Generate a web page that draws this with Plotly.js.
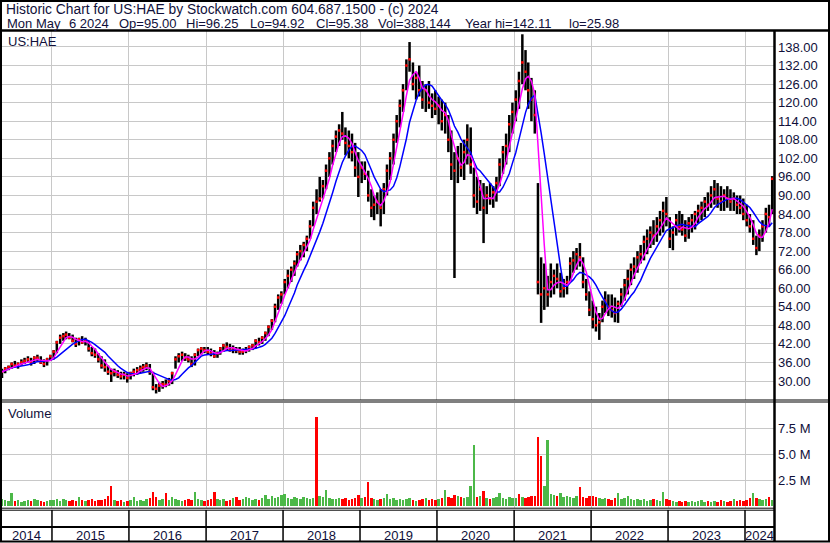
<!DOCTYPE html>
<html><head><meta charset="utf-8">
<script src="https://cdn.plot.ly/plotly-3.0.1.min.js"></script>
<style>html,body{margin:0;padding:0;background:#fff;} #chart{width:830px;height:543px;}</style>
</head><body><div id="chart"></div>
<script>
// ---- data (semi-monthly samples, 9th & 24th of each month from 2014-05-09) ----
const hi = [
 34,34.5,35,36,36.5,36,37,37.5,38,37.5,38,38.5,38,37,37.5,38.5,
 40,43,45,45.5,46,45.5,45,44,44,44.5,44,43,41,40.5,39,38,37,35,34,34,33.5,33,33,32.5,
 33,34,34.5,35,35.5,36,35.5,33,29,29.5,30,30.5,31,33,38,39,39.5,39,38.5,38,39,40.5,41,41,
 41,40.5,40,39.5,41,42,42.5,42,41.5,41,41,40.5,41,41.5,42,43.5,44,44.5,46,48,50,55,58,59,
 63,66,67,69,72,74,75,77,82,88,92,96,95,100,104,108,111,113,117,112,111,110,107,104,
 101,101,98,92,90,91,92,94,100,104,110,116,121,126,134,139.6,133,130,132,127,126,127,123,124,
 122,121,120,116,111,104,106,107,108,113,112,99,96,95,94,93,94,93,96,102,106,110,116,120,
 124,130,142.11,137,133,128,124,94,70,68,64,68,66,68,65,63,64,70,72,73,74.6,70,63,59,
 56,54,52,56,59,58,58,57,56,60,63,66,68,70,72,74,77,79,80,82,83,85,88,89.5,
 83,80,84,85,84,82,83,84,85,87,88,89.5,91,93,95,94,93,92,93,92,91,90,90,89,
 87,84,82,77,79,82,86,87,96.25
];
const lo = [
 31,32.5,33.5,34,34.5,34,35,35.5,36,35,35.5,36.5,35.5,34.5,35,36.5,
 37,39,42,43,43.5,43.5,42.5,41,41.5,42,41.5,39.5,38,37.5,36,34,33,32,29.7,31.5,31,30.5,30.5,29.5,
 30.5,31.5,32,32.5,33,33.5,32,27,25.98,26.5,27.5,28,28.5,29,34,36,36.5,36.5,36,34.5,35,38,38.5,39,
 38.5,38,37.5,37.5,38.5,39.5,40,39.5,39,39,38.5,38.5,39,39.5,40,40.5,41.5,42,43,44.5,46.5,49,53,55,
 58,60,62,64,67,69,70,72,76,80,84,88,89,92,96,100,104,106,108,103,102,101,96,89.5,
 94,95,88,83,82,84,80,84,90,95,100,107,112,117,124,130,124,121,122,118,117,118,115,116,
 113,111,110,104,95,63.3,94,96,95,100,97,86,84,85,74.6,84,87,86,88,93,97,100,104,110,
 114,118,126,124,118,114,110,58,48.8,53,54,57,58,60,57,57,58,62,65,66,67,60,56,51,
 47,46,43.3,49,52,51,50.5,49,48.8,54,56,58,61,63,65,68,69,71,73,74,75,77,78,80,
 73,72.3,77,78,77,75,76,78,79,81,82,83,85,86,87,86,85,85,86,85,85,84,84,82,
 80,78,74,70.7,72,75,78,80,84
];
const cl = [
 33,34,34.5,35.5,35,35.5,36,36.5,37,36,37.5,37.5,36,35.5,37,38,
 39.5,42.5,44,44.5,45,44,43,42,43.5,42.5,43,40.5,39,38.5,37,35,34.5,33,32.5,33,32,31.5,32,31,
 32.5,33,33.5,34,34.5,35,33,28,27.5,28.5,29,28.8,30,32.5,37,38,38.5,37.5,37,35.5,38.5,40,40.5,40,
 39.5,39,38,39,40.5,41.5,41,40,40.5,40,39.5,39.5,40,41,41.5,43,42.5,44,45.5,47.5,49.5,54,57,58,
 62,64,66,68,71,72,74,76,80,86,88,89,93,98,102,106,109,111,110,107,106,104,99,96,
 99,97,90,86,87,88,86,92,98,102,108,114,119,124,132,134,126,128,124,121,124,120,119,118,
 119,114,116,108,100,98,102,99,104,108,100,90,88,92,86,90,89,91,94,100,104,106,113,117,
 121,127,133,130,124,121,116,62,58,60,58,62,64,63,59,60,62,68,69,71,70,62,58,53,
 50,48,49,54,56,54,53,52,55,58,61,63,66,67,70,71,75,76,78,77,80,82,85,84,
 76,78,82,80,79,77,81,82,84,85,86,88,87,90,92,89,88,90,89,88,89,87,86,84,
 82,80,76,73,77,80,84,83,95.38
];
// volume in millions (largest daily volume in each half-month)
const vol = [
 0.7,0.6,0.5,1.3,0.5,0.6,0.4,0.5,0.6,0.5,0.7,0.6,0.5,0.4,0.5,0.6,
 0.6,0.7,0.5,0.7,0.6,0.5,0.6,0.5,0.9,0.6,0.5,0.6,0.7,0.5,0.6,0.6,0.7,1.0,1.95,0.6,0.5,0.6,0.4,0.5,
 0.6,0.9,0.5,0.6,0.5,0.7,0.8,1.35,0.9,0.6,0.7,1.25,0.6,0.9,0.7,0.6,0.5,0.6,0.7,0.6,1.4,0.7,0.6,0.5,
 0.6,0.7,1.35,0.7,0.6,0.7,0.5,0.6,0.8,0.9,0.6,0.7,0.9,0.8,0.6,0.7,0.6,0.8,1.1,0.7,1.0,0.8,0.9,1.1,
 1.2,0.8,0.7,0.9,0.8,0.7,0.9,0.8,0.7,0.8,8.6,1.0,0.9,1.6,0.8,0.7,0.7,0.8,0.7,0.8,0.6,0.7,0.8,1.1,
 0.8,0.9,2.35,0.8,0.7,0.6,0.7,0.8,1.2,0.7,0.8,0.6,0.7,0.6,0.7,0.8,0.6,0.5,0.6,0.7,0.8,0.6,0.7,0.6,
 0.7,0.8,1.6,0.9,0.8,1.1,1.0,0.9,0.8,0.9,1.95,5.9,0.9,1.0,1.5,0.8,0.7,0.8,0.9,1.3,0.8,0.7,0.9,0.8,
 0.8,1.2,0.9,0.8,0.9,1.0,1.0,6.7,4.8,2.0,6.4,1.2,1.1,1.0,1.3,0.9,1.0,0.9,0.8,1.0,1.85,0.9,0.8,1.0,
 1.0,0.9,0.8,0.7,0.8,0.7,0.6,0.8,1.3,0.7,0.8,1.0,0.7,0.6,0.7,0.6,0.7,0.5,0.6,0.7,0.6,0.5,1.4,0.7,
 0.6,0.5,0.4,0.5,0.4,0.5,0.4,0.5,0.4,0.5,0.6,0.4,0.5,0.4,0.5,0.4,0.6,0.5,0.4,0.5,0.7,0.5,0.6,0.5,
 0.6,0.8,1.25,0.8,0.7,0.6,0.7,0.9,0.6
];
const upDays = [3,53,60,88,101,120,138,146,147,155,169,170,174,192,195,206,234];
const downDays = [33,34,47,51,66,98,111,114,141,150,161,167,168,180,239];
const years = ['2014','2015','2016','2017','2018','2019','2020','2021','2022','2023','2024'];
const priceTicks = [30,36,42,48,54,60,66,72,78,84,90,96,102,108,114,120,126,132,138];
const volTicks = [2.5,5,7.5];
const volTickText = ['2.5 M','5.0 M','7.5 M'];
const symbol = 'US:HAE';
const headerLine1 = 'Historic Chart for US:HAE by Stockwatch.com 604.687.1500 - (c) 2024';
const headerFields = ['Mon May','6 2024','Op=95.00','Hi=96.25','Lo=94.92','Cl=95.38','Vol=388,144','Year hi=142.11','lo=25.98'];
const fastMA = 4, slowMA = 9;

// ---- layout positions (pixels) ----
const headerFieldX = [6,68,118,185,249,315,377,464,568];

// ---- build ----
const pad = n => String(n).padStart(2,'0');
const dates = cl.map((_, i) => {
  const m = 4 + Math.floor(i/2);
  return `${2014 + Math.floor(m/12)}-${pad(m%12+1)}-${i%2 ? 24 : '09'}`;
});
function sma(a, n){ return a.map((_, i) => { const s = Math.max(0, i-n+1); let t=0; for(let k=s;k<=i;k++) t+=a[k]; return t/(i-s+1); }); }

const bx=[], by=[];
dates.forEach((d,i)=>{ bx.push(d,d,null); by.push(lo[i],hi[i],null); });

const UP='#4cb848', DN='#ff0000';
const volColors = vol.map((_,i)=>{
  if (upDays.includes(i)) return UP;
  if (downDays.includes(i)) return DN;
  return (i===0 || cl[i] >= cl[i-1]) ? UP : DN;
});

const X0='2014-05-09', X1='2024-05-17 13:00';
const L=2, R=774, T=31, B=508, W=830, H=543;
const PX = x => (x-L)/(R-L);
const PY = y => (B-y)/(B-T);
const TXT = '#10103a';
const FONT = {family:'Liberation Sans, Arial, sans-serif', size:13, color:TXT};
const H1FONT = {family:'Liberation Sans, Arial, sans-serif', size:13.8, color:TXT};

const traces = [
  {type:'scatter', mode:'lines', x:bx, y:by, xaxis:'x', yaxis:'y', line:{color:'#000', width:2.5}, hoverinfo:'skip', connectgaps:false},
  {type:'scatter', mode:'markers', x:dates, y:cl, xaxis:'x', yaxis:'y', marker:{color:'#ff0000', size:2.5, symbol:'square'}, hoverinfo:'skip'},
  {type:'scatter', mode:'lines', x:dates, y:sma(cl,slowMA), xaxis:'x', yaxis:'y', line:{color:'#0000ff', width:1.5}},
  {type:'scatter', mode:'lines', x:dates, y:sma(cl,fastMA), xaxis:'x', yaxis:'y', line:{color:'#ff00ff', width:1.5}},
  {type:'bar', x:dates, y:vol, xaxis:'x', yaxis:'y2', marker:{color:volColors, line:{width:0}}, width:12*86400000}
];

const toStr = ms => { const d=new Date(ms); return `${d.getUTCFullYear()}-${pad(d.getUTCMonth()+1)}-${pad(d.getUTCDate())} ${pad(d.getUTCHours())}:${pad(d.getUTCMinutes())}:00`; };
const t0 = Date.parse(X0+'T00:00:00Z'), t1 = Date.parse(X1.replace(' ','T')+':00Z');
const ann = [];
const shapes = [];
const line = (x0,y0,x1,y1,w,xref) => ({type:'line', xref:xref||'paper', yref:'paper', x0, y0, x1, y1, line:{color:'#000', width:w}, layer:'above'});
years.forEach(yr=>{
  const a = Math.max(t0, Date.parse(yr+'-01-01T00:00:00Z'));
  const b = Math.min(t1, Date.parse((+yr+1)+'-01-01T00:00:00Z'));
  ann.push({x:toStr((a+b)/2), xref:'x', y:PY(535), yref:'paper', text:yr, showarrow:false, xanchor:'center', yanchor:'middle', font:FONT, borderpad:0});
  if (+yr > 2014) shapes.push(line(yr+'-01-01', PY(510), yr+'-01-01', PY(541), 1.5, 'x'));
});
ann.push({x:PX(5), xref:'paper', y:PY(9.5), yref:'paper', text:headerLine1, showarrow:false, xanchor:'left', yanchor:'middle', font:H1FONT, borderpad:0});
headerFields.forEach((t,k)=>{
  ann.push({x:PX(headerFieldX[k]), xref:'paper', y:PY(23.8), yref:'paper', text:t, showarrow:false, xanchor:'left', yanchor:'middle', font:FONT, borderpad:0});
});
ann.push({x:PX(7), xref:'paper', y:PY(41), yref:'paper', text:symbol, showarrow:false, xanchor:'left', yanchor:'middle', font:FONT, borderpad:0});
ann.push({x:PX(7), xref:'paper', y:PY(413), yref:'paper', text:'Volume', showarrow:false, xanchor:'left', yanchor:'middle', font:FONT, borderpad:0});

shapes.push({type:'rect', xref:'paper', yref:'paper', x0:PX(1), x1:PX(829), y0:PY(1), y1:PY(541.5), line:{color:'#000', width:2}, layer:'above'});
shapes.push(line(PX(0), PY(30.5), PX(830), PY(30.5), 2.5));
shapes.push(line(PX(774.5), PY(30), PX(774.5), PY(542), 2.5));
shapes.push(line(PX(0), PY(400), PX(830), PY(400), 1));
shapes.push(line(PX(0), PY(402), PX(830), PY(402), 1));
shapes.push(line(PX(0), PY(508.2), PX(774), PY(508.2), 1));
shapes.push(line(PX(0), PY(510.2), PX(774), PY(510.2), 1));
shapes.push(line(PX(0), PY(527), PX(774), PY(527), 2));

const grid = '#c8c8c8';
const layout = {
  width:W, height:H, margin:{l:L, r:W-R, t:T, b:H-B, pad:0},
  paper_bgcolor:'#fff', plot_bgcolor:'#fff', showlegend:false, bargap:0,
  font:FONT,
  xaxis:{type:'date', range:[X0,X1], domain:[0,1], anchor:'y2', tickvals:years.slice(1).map(y=>y+'-01-01'), showticklabels:false, ticks:'', showgrid:true, gridcolor:grid, gridwidth:1, zeroline:false, showline:false},
  yaxis:{domain:[PY(400),1], range:[23.86,143.17], side:'right', anchor:'x', tickvals:priceTicks, tickformat:'.2f', ticks:'', showgrid:true, gridcolor:grid, gridwidth:1, zeroline:false, showline:false, tickfont:FONT, ticklabelstandoff:3},
  yaxis2:{domain:[0,PY(403)], range:[-0.163,9.93], side:'right', anchor:'x', tickvals:volTicks, ticktext:volTickText, ticks:'', showgrid:true, gridcolor:grid, gridwidth:1, zeroline:false, showline:false, tickfont:FONT, ticklabelstandoff:3},
  annotations:ann, shapes:shapes
};
Plotly.newPlot('chart', traces, layout, {staticPlot:true, displayModeBar:false});
</script></body></html>
